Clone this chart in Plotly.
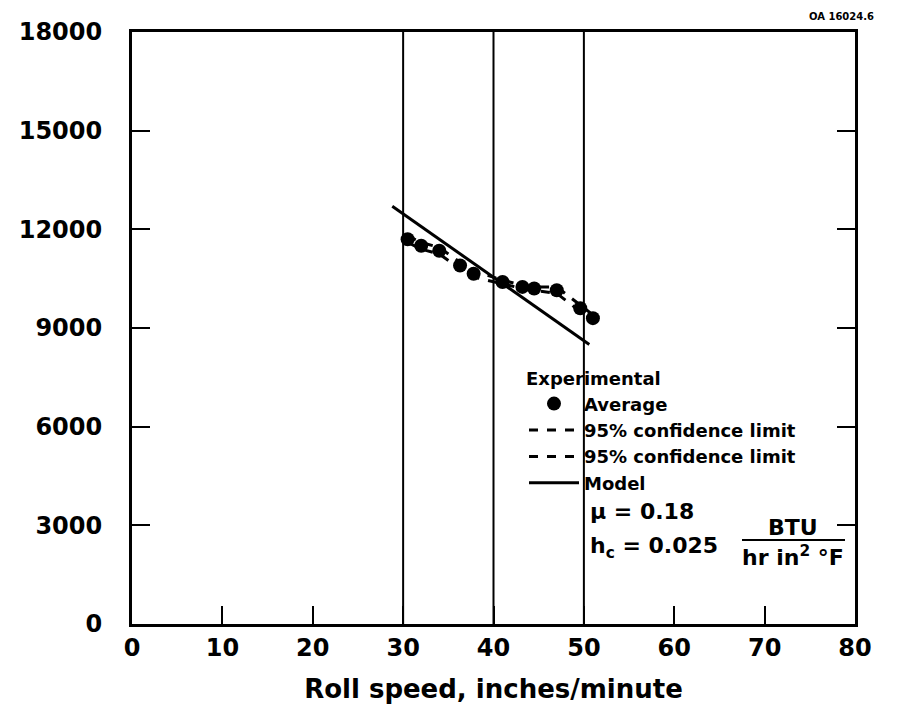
import plotly.graph_objects as go

# ---- data ----
avg_speed = [30.5, 32.0, 34.0, 36.3, 37.8, 41.0, 43.2, 44.5, 47.0, 49.6, 51.0]
avg_h     = [11700, 11500, 11350, 10900, 10650, 10400, 10250, 10200, 10150, 9600, 9300]
ci_upper  = [11800, 11600, 11450, 11000, 10750, 10450, 10300, 10250, 10250, 9700, 9400]
ci_lower  = [11600, 11400, 11250, 10800, 10550, 10350, 10200, 10150, 10050, 9500, 9200]
model_speed = [28.8, 50.6]
model_h     = [12700, 8500]
ref_speeds  = [30, 40, 50]
x_ticks = [0, 10, 20, 30, 40, 50, 60, 70, 80]
y_ticks = [0, 3000, 6000, 9000, 12000, 15000, 18000]

FONT = "DejaVu Sans"
W, H = 902, 709
OFF = 8  # page body margin
ML, MR, MT, MB = 132 - OFF, 47 + OFF, 32 - OFF, 85 + OFF
PW, PH = W - ML - MR, H - MT - MB
PLOT_L, PLOT_B = ML + OFF, MT + OFF + PH

def px(xp):
    return (xp - PLOT_L) / PW

def py(yp):
    return (PLOT_B - yp) / PH

fig = go.Figure()

fig.add_trace(go.Scatter(x=avg_speed, y=avg_h, mode="markers", name="Average",
                         marker=dict(color="black", size=14)))
fig.add_trace(go.Scatter(x=avg_speed, y=ci_upper, mode="lines", name="95% confidence limit",
                         line=dict(color="black", width=3, dash="dash")))
fig.add_trace(go.Scatter(x=avg_speed, y=ci_lower, mode="lines", name="95% confidence limit",
                         line=dict(color="black", width=3, dash="dash")))
fig.add_trace(go.Scatter(x=model_speed, y=model_h, mode="lines", name="Model",
                         line=dict(color="black", width=3)))

for xs in ref_speeds:
    fig.add_vline(x=xs, line=dict(color="black", width=2))

tfont = dict(family=FONT, size=24, color="black", weight="bold")

fig.update_xaxes(range=[0, 80], tickvals=x_ticks, tickformat="d", ticks="inside", ticklen=18,
                 tickwidth=2, tickcolor="black", showline=True, linecolor="black", linewidth=3,
                 mirror=True, showgrid=False, zeroline=False, tickfont=tfont,
                 title=dict(text="Roll speed, inches/minute",
                            font=dict(family=FONT, size=26, color="black", weight="bold"),
                            standoff=20))
fig.update_yaxes(range=[0, 18000], tickvals=y_ticks, tickformat="d", ticks="inside", ticklen=18,
                 tickwidth=2, tickcolor="black", showline=True, linecolor="black", linewidth=3,
                 mirror="ticks", showgrid=False, zeroline=False, tickfont=tfont,
                 ticklabelstandoff=22)

lfont = dict(family=FONT, size=18, color="black", weight="bold")
afont = dict(family=FONT, size=22, color="black", weight="bold")

fig.add_annotation(text="μ = 0.18", xref="paper", yref="paper", x=px(588), y=py(512),
                   xanchor="left", yanchor="middle", showarrow=False, font=afont)
fig.add_annotation(text="h<sub>c</sub> = 0.025", xref="paper", yref="paper", x=px(588), y=py(547),
                   xanchor="left", yanchor="middle", showarrow=False, font=afont)
fig.add_annotation(text="BTU", xref="paper", yref="paper", x=px(793), y=py(527),
                   xanchor="center", yanchor="middle", showarrow=False, font=afont)
fig.add_annotation(text="hr in<sup>2</sup> °F", xref="paper", yref="paper", x=px(793), y=py(556),
                   xanchor="center", yanchor="middle", showarrow=False, font=afont)
fig.add_shape(type="line", xref="paper", yref="paper", x0=px(742), x1=px(845),
              y0=py(540), y1=py(540), line=dict(color="black", width=2))
fig.add_annotation(text="OA 16024.6", xref="paper", yref="paper", x=px(876), y=py(16),
                   xanchor="right", yanchor="middle", showarrow=False,
                   font=dict(family=FONT, size=10, color="black", weight="bold"))

fig.update_layout(
    width=W, height=H, margin=dict(l=ML, r=MR, t=MT, b=MB, autoexpand=False),
    paper_bgcolor="white", plot_bgcolor="white",
    showlegend=True,
    legend=dict(x=px(524), y=py(362), xanchor="left", yanchor="top", itemwidth=50,
                bgcolor="rgba(0,0,0,0)", font=lfont, tracegroupgap=0,
                title=dict(text="Experimental", font=lfont)),
)

fig.write_html("out.html")
